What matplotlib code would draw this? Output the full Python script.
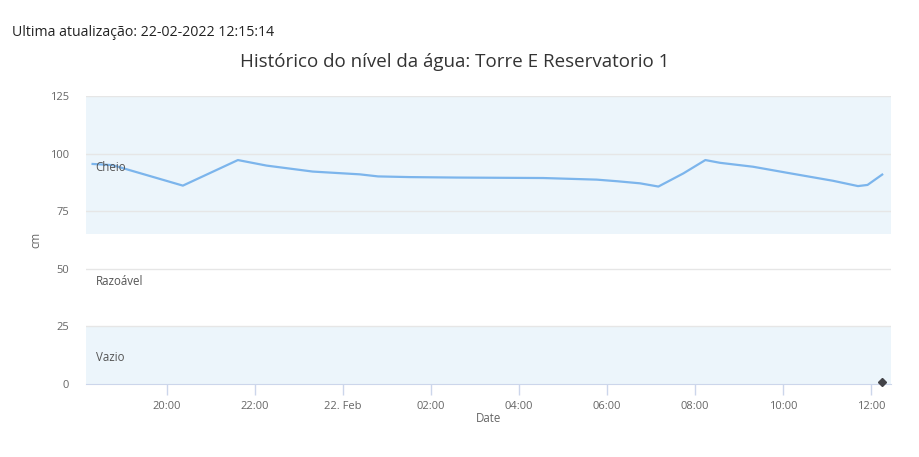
#!/usr/bin/env python3
"""Water level history chart for Torre E Reservatorio 1."""

import datetime

import matplotlib
matplotlib.use('Agg')
import matplotlib.pyplot as plt
import matplotlib.dates as mdates


# water level readings (cm)
times = [
    '2022-02-21 18:19', '2022-02-21 18:46', '2022-02-21 20:22', '2022-02-21 21:37',
    '2022-02-21 22:16', '2022-02-21 23:19', '2022-02-22 00:23', '2022-02-22 00:48',
    '2022-02-22 01:31', '2022-02-22 02:35', '2022-02-22 04:33', '2022-02-22 05:46',
    '2022-02-22 06:14', '2022-02-22 06:45', '2022-02-22 07:10', '2022-02-22 07:44',
    '2022-02-22 08:14', '2022-02-22 08:34', '2022-02-22 09:19', '2022-02-22 10:05',
    '2022-02-22 11:08', '2022-02-22 11:42', '2022-02-22 11:55', '2022-02-22 12:15',
]
levels = [
    95.5, 95.0, 86.1, 97.2,
    94.8, 92.2, 91.0, 90.1,
    89.8, 89.6, 89.4, 88.7,
    88.0, 87.1, 85.7, 91.4,
    97.2, 96.0, 94.3, 91.7,
    88.2, 85.9, 86.4, 90.9,
]

# second series: single marker
marker_time = ['2022-02-22 12:15']
marker_value = [1]

# plot bands
bands = [('Vazio', 0, 25, 11.7), ('Razoável', 25, 65, 44.3), ('Cheio', 65, 125, 93.8)]
band_filled = {'Vazio': True, 'Razoável': False, 'Cheio': True}

x_start = '2022-02-21 18:10'
x_end = '2022-02-22 12:27'

title = 'Histórico do nível da água: Torre E Reservatorio 1'
updated = 'Ultima atualização: 22-02-2022 12:15:14'


def to_dt(values):
    return [datetime.datetime.strptime(v, '%Y-%m-%d %H:%M') for v in values]


plt.rcParams['font.family'] = ['Open Sans', 'DejaVu Sans']

fig = plt.figure(figsize=(9.2, 4.57), dpi=100)
ax = fig.add_axes([86 / 920, 1 - 384 / 457, 805 / 920, 288 / 457])

x0, x1 = to_dt([x_start, x_end])
for name, low, high, label_y in bands:
    if band_filled[name]:
        ax.axhspan(low, high, color='#ecf5fb', zorder=0, lw=0)
    ax.text(x0 + datetime.timedelta(minutes=13), label_y, name, fontsize=8.3,
            color='#555555', va='center', ha='left', zorder=4)

for y in [25, 50, 75, 100, 125]:
    ax.axhline(y, color='#e6e6e6', lw=1, zorder=1)

ax.plot(to_dt(times), levels, color='#7cb5ec', lw=1.6, zorder=3)
ax.plot(to_dt(marker_time), marker_value, marker='D', color='#434348',
        markersize=4.5, lw=0, zorder=5, clip_on=False)

ax.set_xlim(x0, x1)
ax.set_ylim(0, 125)
ax.set_yticks([0, 25, 50, 75, 100, 125])

ax.xaxis.set_major_locator(mdates.HourLocator(byhour=range(0, 24, 2)))


def fmt_date(value, pos=None):
    d = mdates.num2date(value)
    if d.hour == 0:
        return d.strftime('%d. %b')
    return d.strftime('%H:%M')


ax.xaxis.set_major_formatter(plt.FuncFormatter(fmt_date))

for side in ['top', 'right', 'left']:
    ax.spines[side].set_visible(False)
ax.spines['bottom'].set_color('#ccd6eb')
ax.spines['bottom'].set_zorder(2)
ax.tick_params(axis='x', colors='#ccd6eb', length=8, width=1, labelcolor='#666666',
               labelsize=8, pad=4)
ax.tick_params(axis='y', length=0, labelcolor='#666666', labelsize=8, pad=12)

ax.set_xlabel('Date', fontsize=8.3, color='#666666', labelpad=0)
ax.set_ylabel('cm', fontsize=8.3, color='#666666')
ax.yaxis.set_label_coords(-44 / 805, 0.5)

fig.text(12 / 920, 1 - 33 / 457, updated, fontsize=10.2, color='#222222', va='center', ha='left')
fig.text(455 / 920, 1 - 62 / 457, title, fontsize=13.5, color='#333333', va='center', ha='center')

fig.savefig('out.png', dpi=100)
